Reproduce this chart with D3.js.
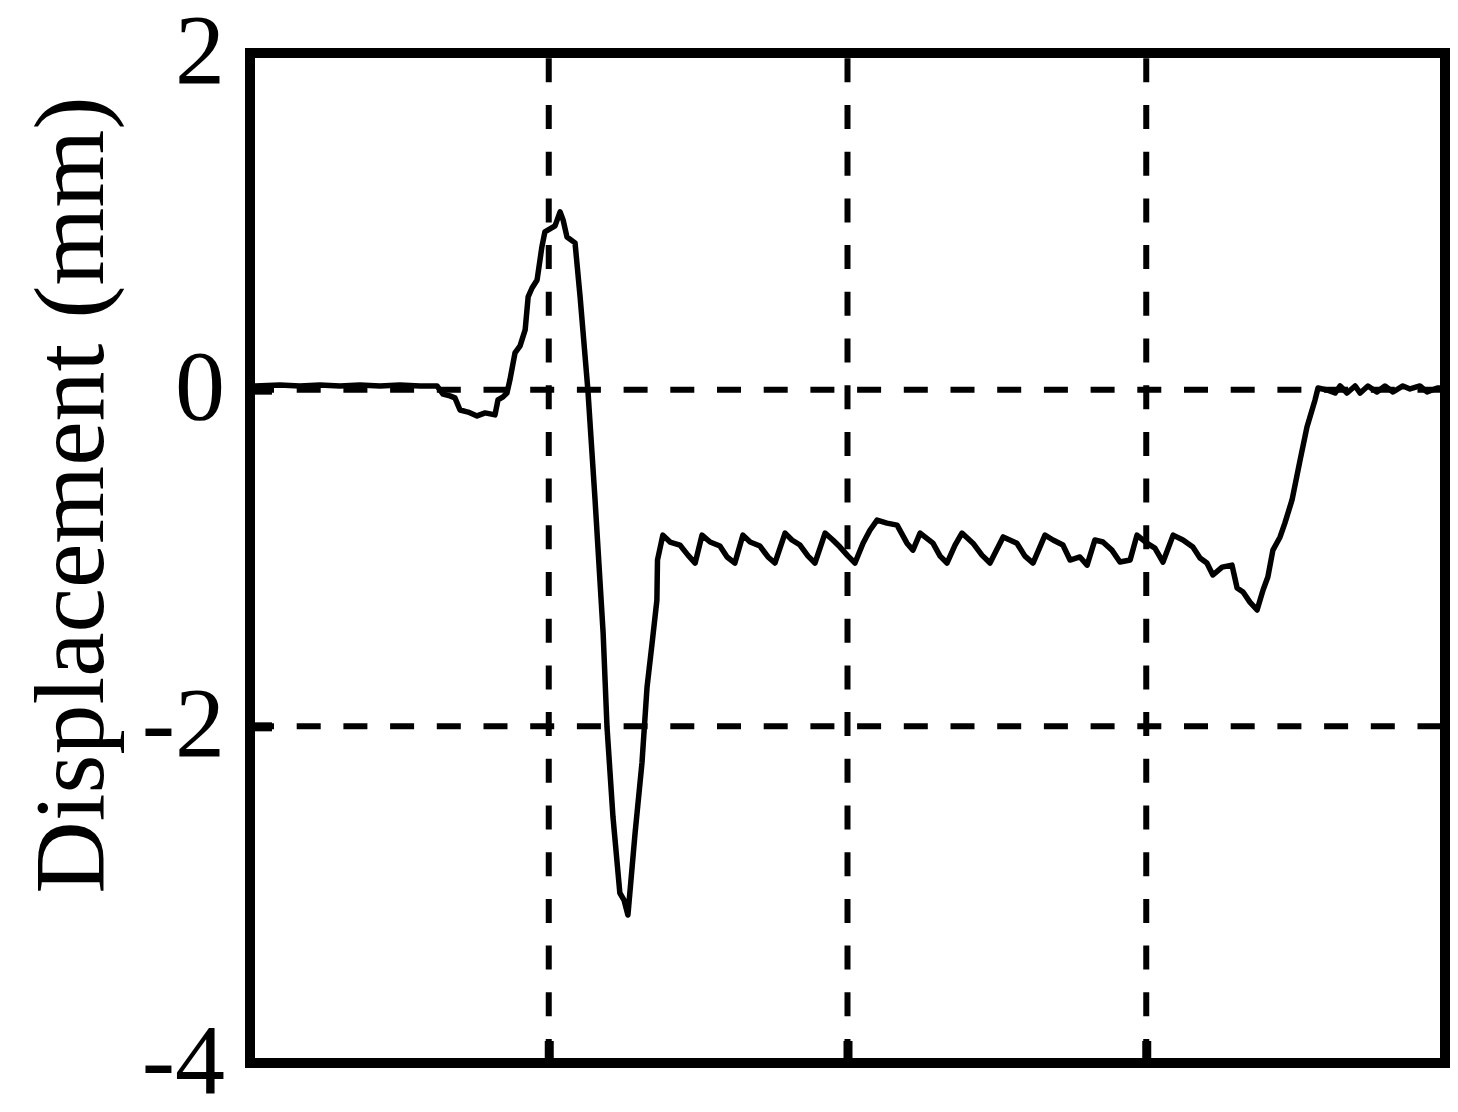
<!DOCTYPE html>
<html>
<head>
<meta charset="utf-8">
<script src="https://cdn.jsdelivr.net/npm/d3@7"></script>
<style>
  body { margin: 0; background: #fff; }
  svg { display: block; }
</style>
</head>
<body>
<div id="chart"></div>
<script>
(function(){

// time (arbitrary units, 0-4)
var timeVals = [0.017,0.100,0.167,0.234,0.301,0.368,0.435,0.502,0.569,0.626,
  0.646,0.669,0.686,0.703,0.730,0.760,0.787,0.820,0.830,0.847,
  0.860,0.870,0.887,0.904,0.921,0.931,0.944,0.961,0.977,0.987,
  1.004,1.021,1.038,1.048,1.061,1.088,1.105,1.131,1.155,1.182,
  1.195,1.215,1.238,1.252,1.265,1.289,1.312,1.329,1.346,1.362,
  1.364,1.382,1.406,1.439,1.466,1.490,1.513,1.540,1.573,1.597,
  1.623,1.650,1.674,1.707,1.734,1.757,1.791,1.814,1.841,1.868,
  1.891,1.925,1.951,1.975,2.002,2.025,2.052,2.075,2.099,2.132,
  2.166,2.199,2.219,2.243,2.286,2.310,2.333,2.360,2.383,2.420,
  2.450,2.477,2.521,2.567,2.594,2.621,2.661,2.688,2.721,2.745,
  2.778,2.802,2.828,2.855,2.885,2.912,2.946,2.969,3.002,3.029,
  3.056,3.090,3.123,3.156,3.180,3.203,3.223,3.254,3.287,3.304,
  3.324,3.347,3.371,3.391,3.407,3.424,3.448,3.464,3.488,3.515,
  3.538,3.565,3.575,3.605,3.632,3.649,3.672,3.699,3.716,3.742,
  3.772,3.799,3.826,3.859,3.883,3.916,3.940,3.974,3.993];

// displacement (mm)
var dispVals = [0.022,0.028,0.022,0.028,0.022,0.028,0.022,0.028,0.022,0.022,
  -0.026,-0.037,-0.049,-0.121,-0.133,-0.156,-0.138,-0.150,-0.061,-0.043,
  -0.020,0.058,0.218,0.260,0.355,0.551,0.604,0.652,0.848,0.937,
  0.955,0.973,1.056,1.008,0.907,0.872,0.551,-0.002,-0.655,-1.445,
  -2.004,-2.539,-2.990,-3.032,-3.121,-2.634,-2.218,-1.767,-1.505,-1.250,
  -1.012,-0.864,-0.905,-0.923,-0.983,-1.030,-0.864,-0.905,-0.929,-0.994,
  -1.030,-0.864,-0.905,-0.929,-0.994,-1.030,-0.852,-0.893,-0.923,-0.989,
  -1.030,-0.852,-0.893,-0.935,-0.989,-1.030,-0.912,-0.835,-0.775,-0.793,
  -0.805,-0.912,-0.953,-0.852,-0.912,-0.989,-1.030,-0.923,-0.852,-0.912,
  -0.983,-1.030,-0.875,-0.912,-0.989,-1.030,-0.864,-0.893,-0.923,-1.012,
  -0.994,-1.042,-0.893,-0.905,-0.953,-1.024,-1.012,-0.864,-0.912,-0.941,
  -1.024,-0.864,-0.893,-0.935,-1.000,-1.030,-1.101,-1.054,-1.042,-1.178,
  -1.202,-1.262,-1.309,-1.190,-1.113,-0.953,-0.875,-0.793,-0.655,-0.418,
  -0.222,-0.061,0.010,-0.002,-0.020,0.022,-0.020,0.022,-0.020,0.022,
  -0.014,0.022,-0.014,0.022,0.004,0.022,-0.014,0.010,0.010];

var yTicks = [2, 0, -2, -4];
var yGrid = [0, -2];
var xGrid = [1, 2, 3];
var yLabel = "Displacement (mm)";

var width = 1458, height = 1112;
var margin = {top: 53, right: 13, bottom: 49, left: 250};
var w = width - margin.left - margin.right,
    h = height - margin.top - margin.bottom;

var data = timeVals.map(function(t, i){ return {t: t, d: dispVals[i]}; });

var svg = d3.select("#chart").append("svg")
    .attr("width", width)
    .attr("height", height);
var g = svg.append("g")
    .attr("transform", "translate(" + margin.left + "," + margin.top + ")");

var x = d3.scaleLinear().domain([0, 4]).range([0, w]);
var y = d3.scaleLinear().domain([-4, 2]).range([h, 0]);

// dashed grid
g.selectAll(".hgrid").data(yGrid).enter().append("line")
    .attr("class", "hgrid")
    .attr("x1", 0).attr("x2", w)
    .attr("y1", function(d){ return y(d); })
    .attr("y2", function(d){ return y(d); })
    .style("stroke", "#000").style("stroke-width", 6)
    .style("stroke-dasharray", "24,22.7");
g.selectAll(".vgrid").data(xGrid).enter().append("line")
    .attr("class", "vgrid")
    .attr("x1", function(d){ return x(d); })
    .attr("x2", function(d){ return x(d); })
    .attr("y1", h).attr("y2", 0)
    .style("stroke", "#000").style("stroke-width", 6)
    .style("stroke-dasharray", "24,22.7");

// the trace
var line = d3.line()
    .x(function(d){ return x(d.t); })
    .y(function(d){ return y(d.d); });
g.append("path")
    .datum(data)
    .attr("d", line)
    .style("fill", "none")
    .style("stroke", "#000")
    .style("stroke-width", 5.5)
    .style("stroke-linejoin", "round");

// axes, ticks pointing inward
var yAxis = g.append("g")
    .call(d3.axisLeft(y).tickValues(yTicks).tickSize(-22).tickPadding(25)
      .tickFormat(d3.format("d")));
var xAxis = g.append("g")
    .attr("transform", "translate(0," + h + ")")
    .call(d3.axisBottom(x).tickValues(xGrid).tickSize(-22).tickFormat(""));
g.selectAll(".domain").remove();
g.selectAll(".tick line").style("stroke", "#000").style("stroke-width", 9);
yAxis.selectAll("text")
    .attr("dy", "0.29em")
    .style("font-family", "'Liberation Serif', 'Times New Roman', serif")
    .style("font-size", "100px")
    .style("fill", "#000")
    .text(function(d){ return d < 0 ? "-" + Math.abs(d) : d; });

// frame
g.append("rect")
    .attr("width", w).attr("height", h)
    .style("fill", "none")
    .style("stroke", "#000")
    .style("stroke-width", 10);

svg.append("text")
    .attr("transform", "translate(103," + (margin.top + h / 2 - 63) + ") rotate(-90)")
    .attr("text-anchor", "middle")
    .style("font-family", "'Liberation Serif', 'Times New Roman', serif")
    .style("font-size", "100px")
    .text(yLabel);

})();
</script>
</body>
</html>
